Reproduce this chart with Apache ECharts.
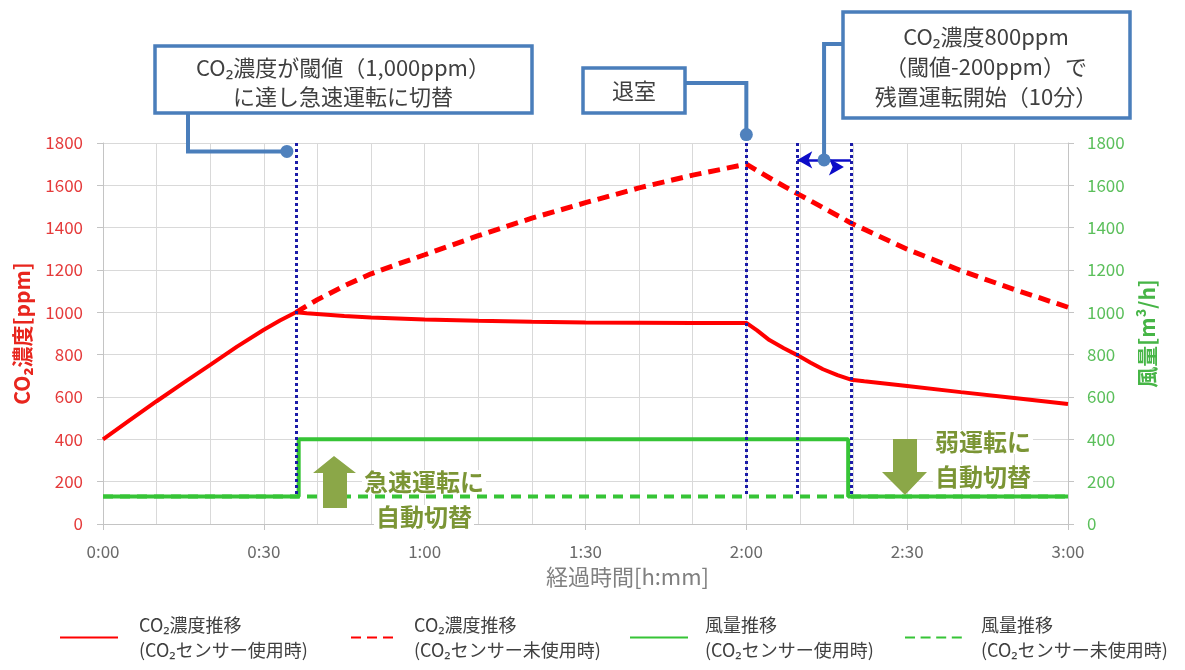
<!DOCTYPE html>
<html>
<head>
<meta charset="utf-8">
<script src="https://cdn.jsdelivr.net/npm/echarts@6/dist/echarts.min.js"></script>
<style>
  html, body { margin: 0; padding: 0; background: #fff; }
  #main { width: 1185px; height: 670px; }
</style>
</head>
<body>
<div id="main"></div>
<script>
const FONT = '"Noto Sans CJK JP", "Noto Sans", sans-serif';

// Elapsed time [min] and CO2 concentration [ppm] with the CO2 sensor in use
const co2SensorTime = [0, 5, 10, 15, 20, 25, 30, 33, 36, 38, 45, 50, 60, 70, 80, 90, 100, 110, 120,
  122, 124.3, 127, 129.5, 132, 134.3, 137, 139.5, 142, 150, 160, 170, 180];
const co2SensorPpm = [400, 491, 580, 667, 752, 838, 918, 961, 1000, 996, 983, 976, 966, 960, 955, 952, 951, 950, 950,
  915, 869, 830, 798, 762, 731, 703, 682, 674, 652, 623, 595, 567];

// CO2 concentration without the sensor (continues rising after the threshold)
const co2NoSensorTime = [36, 40, 45, 50, 55, 60, 70, 80, 90, 100, 110, 120,
  125, 129.5, 135, 139.5, 150, 160, 170, 180];
const co2NoSensorPpm = [1000, 1060, 1125, 1182, 1228, 1272, 1362, 1445, 1518, 1588, 1648, 1700,
  1625, 1561, 1485, 1422, 1298, 1197, 1108, 1024];

// Air flow [m3/h]
const airSensorTime = [0, 36.5, 36.5, 139, 139, 180];
const airSensorFlow = [130, 130, 400, 400, 130, 130];
const airNoSensorTime = [0, 180];
const airNoSensorFlow = [130, 130];

// Event times [min]: threshold reached, leaving the room, residual run start / end
const eventTimes = [36, 120, 129.5, 139.5];
const residualSpan = [129.5, 139.5];
const residualMarkPpm = 1720;

const xTickLabels = ['0:00', '0:30', '1:00', '1:30', '2:00', '2:30', '3:00'];

const legendLabels = [
  ['CO₂濃度推移', '(CO₂センサー使用時)'],
  ['CO₂濃度推移', '(CO₂センサー未使用時)'],
  ['風量推移', '(CO₂センサー使用時)'],
  ['風量推移', '(CO₂センサー未使用時)']
];
const seriesNames = ['co2Sensor', 'co2NoSensor', 'airSensor', 'airNoSensor'];

const calloutThreshold = ['CO₂濃度が閾値（1,000ppm）', 'に達し急速運転に切替'];
const calloutLeave = ['退室'];
const calloutResidual = ['CO₂濃度800ppm', '（閾値-200ppm）で', '残置運転開始（10分）'];
const noteBoost = ['急速運転に', '自動切替'];
const noteWeak = ['弱運転に', '自動切替'];

const zip = (xs, ys) => xs.map((x, i) => [x, ys[i]]);

const RED = '#ff0000';
const GREEN = '#36c436';
const GRID = '#d9d9d9';
const AXIS = '#c4c4c4';
const CALLOUT = '#4a7ebb';
const DOT = '#4f81bd';
const OLIVE = '#8ba748';
const OLIVE_TEXT = '#7b9535';

const chart = echarts.init(document.getElementById('main'), null, { renderer: 'canvas' });

function makeLegend(i, left, width, padLeft, dash) {
  const legend = {
    data: [seriesNames[i]],
    left: left,
    top: 600,
    padding: 0,
    itemWidth: width,
    itemHeight: 14,
    itemStyle: { opacity: 0 },
    formatter: () => legendLabels[i].join('\n'),
    textStyle: {
      fontFamily: FONT, fontSize: 18, color: '#404040',
      lineHeight: 25, padding: [25, 0, 0, padLeft]
    }
  };
  if (dash) legend.lineStyle = { type: dash };
  return legend;
}

const option = {
  animation: false,
  textStyle: { fontFamily: FONT },
  grid: { left: 103, right: 117, top: 143, bottom: 146 },
  legend: [
    makeLegend(0, 59, 58, 16),
    makeLegend(1, 350, 42, 16, [10, 6]),
    makeLegend(2, 629, 58, 12),
    makeLegend(3, 904, 57, 14, [10, 5.6])
  ],
  xAxis: {
    type: 'value', min: 0, max: 180, interval: 30,
    axisLine: { show: true, lineStyle: { color: AXIS } },
    axisTick: { show: true, length: 6, lineStyle: { color: AXIS } },
    axisLabel: {
      margin: 19, fontSize: 17, color: '#6a6a6a', fontFamily: FONT,
      formatter: v => xTickLabels[Math.round(v / 30)]
    },
    splitLine: { show: true, lineStyle: { color: GRID } },
    minorTick: { show: false, splitNumber: 3 },
    minorSplitLine: { show: true, lineStyle: { color: GRID } },
    name: '経過時間[h:mm]', nameLocation: 'middle', nameGap: 42,
    nameTextStyle: { fontSize: 22, color: '#808080', fontFamily: FONT, padding: [0, 0, 0, 84] }
  },
  yAxis: [
    {
      type: 'value', min: 0, max: 1800, interval: 200, position: 'left',
      axisLine: { show: true, lineStyle: { color: AXIS } },
      axisTick: { show: true, length: 6, lineStyle: { color: AXIS } },
      axisLabel: { margin: 20, fontSize: 17, color: '#e53b3b', fontFamily: FONT, formatter: v => String(v) },
      splitLine: { show: true, lineStyle: { color: GRID } },
      name: 'CO₂濃度[ppm]', nameLocation: 'middle', nameGap: 70, nameRotate: 90,
      nameTextStyle: { fontSize: 21, fontWeight: 'bold', color: '#e8261e', fontFamily: FONT }
    },
    {
      type: 'value', min: 0, max: 1800, interval: 200, position: 'right',
      axisLine: { show: true, lineStyle: { color: AXIS } },
      axisTick: { show: true, length: 6, lineStyle: { color: AXIS } },
      axisLabel: { margin: 19, fontSize: 17, color: '#5bbf5b', fontFamily: FONT, formatter: v => String(v) },
      splitLine: { show: false },
      name: '風量[m³/h]', nameLocation: 'middle', nameGap: 69, nameRotate: 90,
      nameTextStyle: { fontSize: 21, fontWeight: 'bold', color: '#46b546', fontFamily: FONT }
    }
  ],
  series: [
    {
      name: seriesNames[3], type: 'line', yAxisIndex: 1, symbol: 'none',
      data: zip(airNoSensorTime, airNoSensorFlow),
      lineStyle: { color: GREEN, width: 4, type: [10, 7] }, itemStyle: { color: GREEN }
    },
    {
      name: seriesNames[2], type: 'line', yAxisIndex: 1, symbol: 'none',
      data: zip(airSensorTime, airSensorFlow),
      lineStyle: { color: GREEN, width: 4 }, itemStyle: { color: GREEN }
    },
    {
      name: seriesNames[1], type: 'line', yAxisIndex: 0, symbol: 'none',
      data: zip(co2NoSensorTime, co2NoSensorPpm),
      lineStyle: { color: RED, width: 5, type: [12, 7] }, itemStyle: { color: RED },
      markLine: {
        silent: true, animation: false,
        symbol: ['arrow', 'arrow'], symbolSize: [13, 15], symbolOffset: [0, 7],
        label: { show: false },
        lineStyle: { color: '#0c0cc8', width: 2.5, type: 'solid' },
        data: [[{ coord: [residualSpan[0], residualMarkPpm] }, { coord: [residualSpan[1], residualMarkPpm] }]]
      }
    },
    {
      name: seriesNames[0], type: 'line', yAxisIndex: 0, symbol: 'none',
      data: zip(co2SensorTime, co2SensorPpm),
      lineStyle: { color: RED, width: 4 }, itemStyle: { color: RED },
      markLine: {
        silent: true, animation: false,
        symbol: ['none', 'none'],
        label: { show: false },
        lineStyle: { color: '#1b1ba8', width: 3, type: [3, 3] },
        data: eventTimes.map(t => [{ coord: [t, 1800] }, { coord: [t, airNoSensorFlow[0]] }])
      }
    }
  ]
};

chart.setOption(option);

// Callout boxes, leader lines and switching notes
const px = (t, v) => chart.convertToPixel({ seriesIndex: 3 }, [t, v]);
const d1 = px(34.3, 1760);
const d2 = px(eventTimes[1], 1840);
const d3 = px((residualSpan[0] + residualSpan[1]) / 2, residualMarkPpm);

function box(x, y, w, h) {
  return { type: 'rect', z: 100, shape: { x, y, width: w, height: h },
    style: { fill: '#fff', stroke: CALLOUT, lineWidth: 3.5 } };
}
function leader(points) {
  return { type: 'polyline', z: 99, shape: { points },
    style: { stroke: CALLOUT, lineWidth: 4, fill: 'none' } };
}
function dot(p) {
  return { type: 'circle', z: 101, shape: { cx: p[0], cy: p[1], r: 6.5 }, style: { fill: DOT } };
}
function lines(texts, cx, y0, step, size, color, weight, align, bg) {
  return texts.map((t, i) => ({
    type: 'text', z: 102, x: cx, y: y0 + i * step,
    style: {
      text: t, fontFamily: FONT, fontSize: size, fontWeight: weight || 'normal',
      fill: color, align: align || 'center', verticalAlign: 'middle',
      backgroundColor: bg || 'transparent', padding: bg ? [0, 2] : 0
    }
  }));
}

const graphics = [
  leader([[188, 113], [188, d1[1]], [d1[0], d1[1]]]),
  leader([[685, 83], [d2[0], 83], [d2[0], d2[1]]]),
  leader([[843, 44], [d3[0], 44], [d3[0], d3[1]]]),
  dot(d1), dot(d2), dot(d3),
  box(155, 46, 377, 67),
  box(583, 68, 102, 45),
  box(843, 12, 287, 106),
  ...lines(calloutThreshold, 343, 68, 29, 22, '#404040'),
  ...lines(calloutLeave, 634, 91, 0, 22, '#404040'),
  ...lines(calloutResidual, 986, 37, 30, 22, '#404040'),
  // up arrow: switch to boost operation
  { type: 'polygon', z: 102, shape: { points: [[334, 456], [356, 473], [347, 473], [347, 508], [323, 508], [323, 473], [313, 473]] },
    style: { fill: OLIVE } },
  // down arrow: switch to weak operation
  { type: 'polygon', z: 102, shape: { points: [[893, 439], [917, 439], [917, 472], [927, 472], [905, 495], [882, 472], [893, 472]] },
    style: { fill: OLIVE } },
  ...lines(noteBoost, 424, 482, 35, 24, OLIVE_TEXT, 'bold', 'center', '#fff'),
  ...lines(noteWeak, 933, 442, 35, 24, OLIVE_TEXT, 'bold', 'left', '#fff')
];

chart.setOption({ graphic: graphics });
</script>
</body>
</html>
